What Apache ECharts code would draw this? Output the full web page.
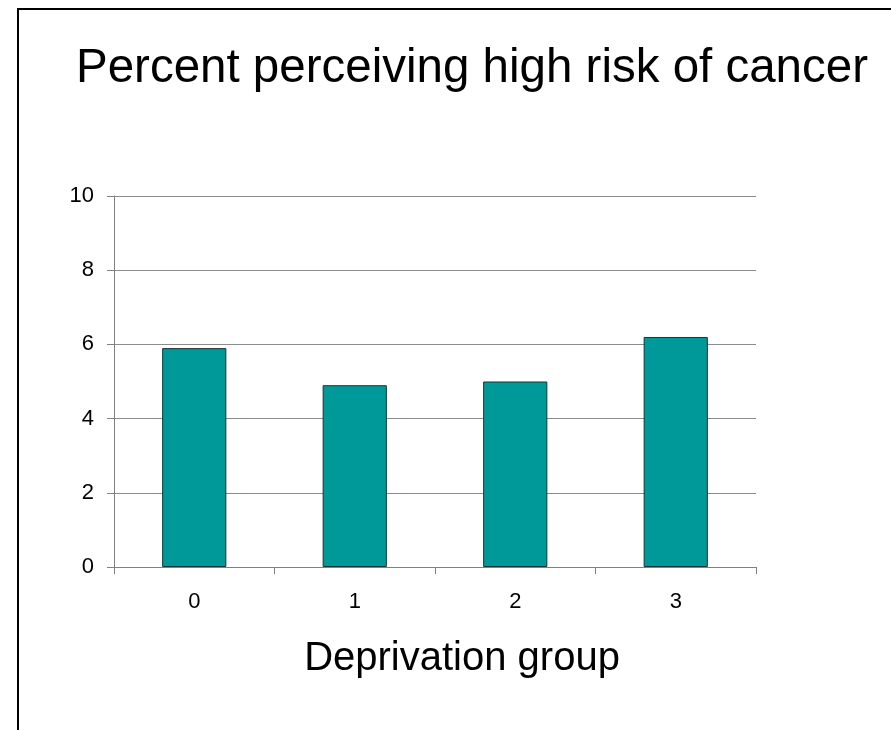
<!DOCTYPE html>
<html>
<head>
<meta charset="utf-8">
<script src="https://cdn.jsdelivr.net/npm/echarts@6/dist/echarts.min.js"></script>
<style>
  html, body { margin: 0; padding: 0; background: #ffffff; }
  #chart { width: 891px; height: 730px; }
</style>
</head>
<body>
<div id="chart"></div>
<script>
// Deprivation groups and the share of people who perceive a high cancer risk
const groups = ['0', '1', '2', '3'];
const percentHighRisk = [5.9, 4.9, 5.0, 6.2];
const yTicks = [0, 2, 4, 6, 8, 10];

const FONT = 'Liberation Sans, Arial, sans-serif';
const chart = echarts.init(document.getElementById('chart'));

chart.setOption({
  animation: false,
  backgroundColor: '#ffffff',
  title: [
    {
      text: 'Percent perceiving high risk of cancer',
      left: 467,
      top: 40,
      textAlign: 'center',
      textStyle: { fontFamily: FONT, fontSize: 47.5, fontWeight: 'normal', color: '#000' }
    },
    {
      text: 'Deprivation group',
      left: 457,
      top: 634,
      textAlign: 'center',
      textStyle: { fontFamily: FONT, fontSize: 40, fontWeight: 'normal', color: '#000' }
    }
  ],
  graphic: [
    {
      type: 'rect',
      silent: true,
      shape: { x: 18, y: 9, width: 1000, height: 1000 },
      style: { fill: 'none', stroke: '#000', lineWidth: 2 }
    }
  ],
  grid: { left: 114, right: 135, top: 196, bottom: 163 },
  xAxis: {
    type: 'category',
    data: groups,
    axisLine: { lineStyle: { color: '#808080', width: 1 } },
    axisTick: { show: true, length: 7, alignWithLabel: false, lineStyle: { color: '#808080' } },
    axisLabel: { fontFamily: FONT, fontSize: 22, color: '#000', margin: 24 },
    splitLine: { show: false }
  },
  yAxis: {
    type: 'value',
    min: yTicks[0],
    max: yTicks[yTicks.length - 1],
    interval: yTicks[1] - yTicks[0],
    axisLine: { show: true, lineStyle: { color: '#808080', width: 1 } },
    axisTick: { show: true, length: 7, lineStyle: { color: '#808080' } },
    axisLabel: { fontFamily: FONT, fontSize: 22, color: '#000', margin: 20 },
    splitLine: { show: true, lineStyle: { color: '#8c8c8c', width: 1 } }
  },
  series: [
    {
      type: 'bar',
      data: percentHighRisk,
      barWidth: '40%',
      itemStyle: { color: '#009999', borderColor: '#1a3333', borderWidth: 1 }
    }
  ]
});
</script>
</body>
</html>
